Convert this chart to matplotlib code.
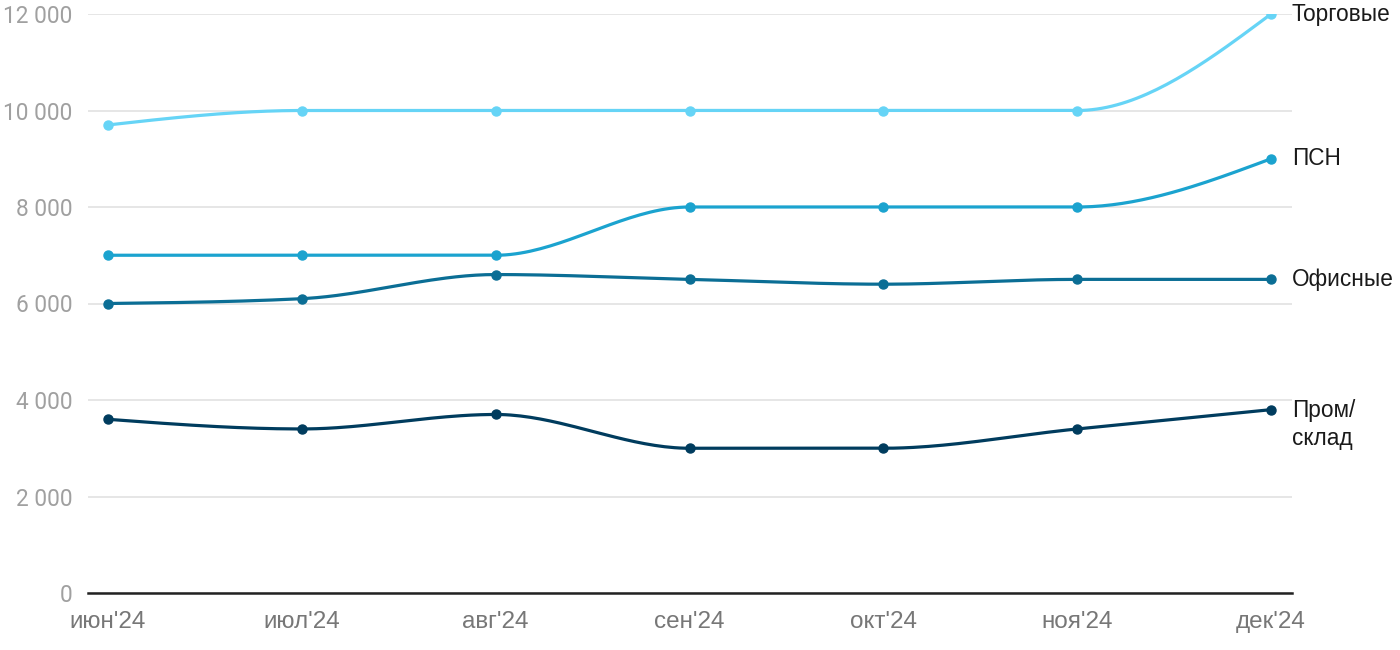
import numpy as np
import matplotlib
matplotlib.use("Agg")
import matplotlib.pyplot as plt
from matplotlib.ticker import FuncFormatter

plt.rcParams['font.family'] = ['Roboto', 'DejaVu Sans']
sans = ['Liberation Sans', 'DejaVu Sans']

# данные
months = ["июн'24", "июл'24", "авг'24", "сен'24", "окт'24", "ноя'24", "дек'24"]
torg = [9700, 10000, 10000, 10000, 10000, 10000, 12000]
psn = [7000, 7000, 7000, 8000, 8000, 8000, 9000]
ofis = [6000, 6100, 6600, 6500, 6400, 6500, 6500]
prom = [3600, 3400, 3700, 3000, 3000, 3400, 3800]

series = [
    ("Торговые", torg, "#66d4f6"),
    ("ПСН", psn, "#1ba3cf"),
    ("Офисные", ofis, "#0b6e95"),
    ("Пром/\nсклад", prom, "#003c5e"),
]


def monotone(x, y, n=40):
    # кривая как d3.curveMonotoneX
    x = np.asarray(x, float)
    y = np.asarray(y, float)
    h = np.diff(x)
    s = np.diff(y) / h
    t = np.zeros(len(x))
    for i in range(1, len(x) - 1):
        p = (s[i - 1] * h[i] + s[i] * h[i - 1]) / (h[i - 1] + h[i])
        t[i] = (np.sign(s[i - 1]) + np.sign(s[i])) * min(abs(s[i - 1]), abs(s[i]), 0.5 * abs(p))
    t[0] = (3 * s[0] - t[1]) / 2
    t[-1] = (3 * s[-1] - t[-2]) / 2
    xs, ys = [], []
    for i in range(len(x) - 1):
        u = np.linspace(0, 1, n)
        h00 = 2 * u**3 - 3 * u**2 + 1
        h10 = u**3 - 2 * u**2 + u
        h01 = -2 * u**3 + 3 * u**2
        h11 = u**3 - u**2
        xs.append(x[i] + u * h[i])
        ys.append(h00 * y[i] + h10 * h[i] * t[i] + h01 * y[i + 1] + h11 * h[i] * t[i + 1])
    return np.concatenate(xs), np.concatenate(ys)


fig = plt.figure(figsize=(14, 6.5), dpi=100)
ax = fig.add_axes([88 / 1400, 1 - 593 / 650, (1292 - 88) / 1400, (593 - 14) / 650])

xpos = np.arange(len(months))
for name, vals, col in series:
    cx, cy = monotone(xpos, vals)
    ax.plot(cx, cy, color=col, lw=2.3, solid_capstyle='round', zorder=3)
    ax.plot(xpos, vals, 'o', color=col, ms=6.5, zorder=4)
    dy = -10.5 if "\n" in name else 0
    ax.annotate(name, (xpos[-1], vals[-1]), xytext=(15, dy), textcoords='offset points',
                ha='left', va='center', fontsize=16.3, color='#1a1a1a', linespacing=1.3,
                family=sans, annotation_clip=False)

ax.set_xlim(-20 / 194.33, 6 + 21 / 194.33)
ax.set_ylim(0, 12000)
ax.set_yticks(range(0, 12001, 2000))
ax.yaxis.set_major_formatter(FuncFormatter(lambda v, p: f"{int(v):,}".replace(",", " ")))
ax.set_xticks(xpos)
ax.set_xticklabels(months, family=sans)

ax.grid(axis='y', color='#e2e2e2', lw=1.2)
ax.set_axisbelow(True)
for sp in ['top', 'right', 'left']:
    ax.spines[sp].set_visible(False)
ax.spines['bottom'].set_color('#222222')
ax.spines['bottom'].set_linewidth(1.8)
ax.tick_params(axis='both', length=0)
ax.tick_params(axis='y', colors='#a0a0a0', pad=11, labelsize=16.3)
ax.tick_params(axis='x', colors='#777777', pad=13, labelsize=17.5)

fig.savefig("out.png", dpi=100)
